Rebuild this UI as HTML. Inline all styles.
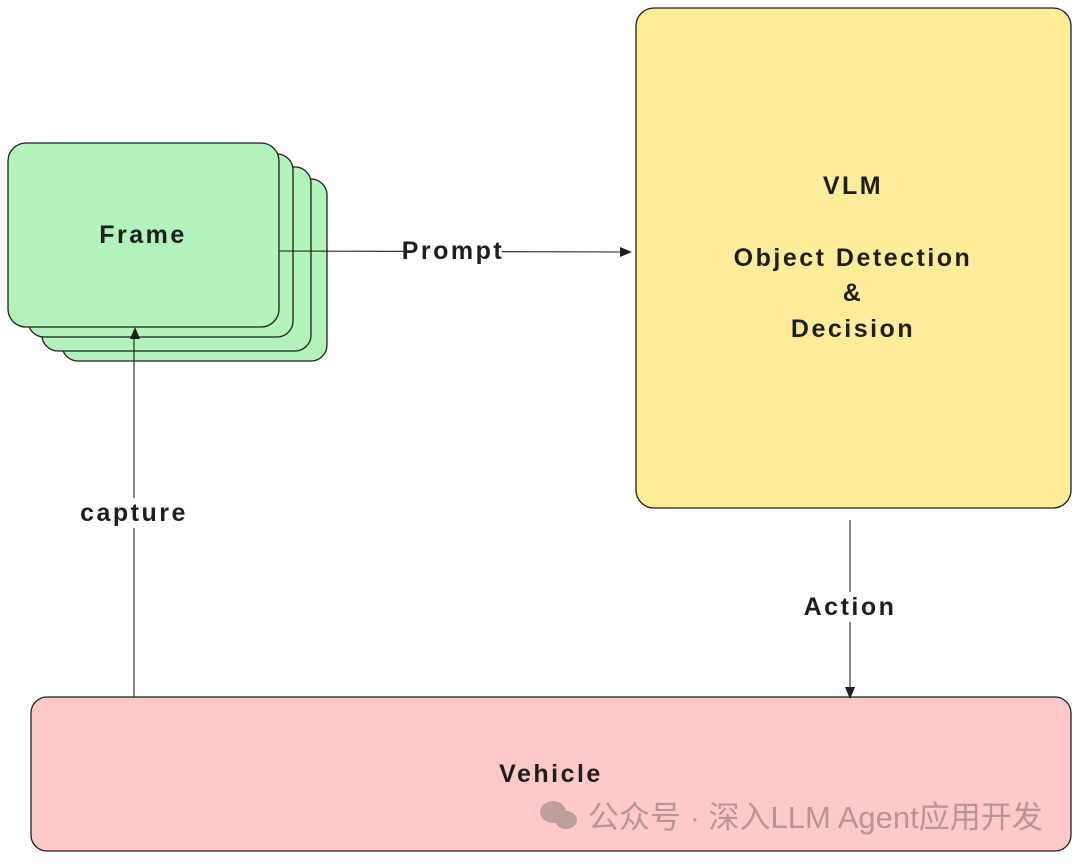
<!DOCTYPE html>
<html><head><meta charset="utf-8"><style>
body{margin:0;background:#fff;width:1080px;height:859px;overflow:hidden}
svg text{font-family:"Comic Sans MS","Liberation Sans",sans-serif;fill:#1e1e1e}
</style></head><body>
<svg width="1080" height="859" viewBox="0 0 1080 859" xmlns="http://www.w3.org/2000/svg">
<g stroke="#1e1e1e" stroke-width="1.3" fill="#b2f2bb">
<rect x="62" y="179" width="265" height="182" rx="16"/>
<rect x="42" y="167" width="269" height="184" rx="16"/>
<rect x="28" y="154" width="265" height="183" rx="16"/>
<rect x="8" y="143" width="271" height="184" rx="18"/>
</g>
<rect x="636" y="8" width="435" height="500" rx="18" fill="#ffec99" stroke="#1e1e1e" stroke-width="1.3"/>
<rect x="31" y="697" width="1040" height="154" rx="16" fill="#ffc9c9" stroke="#1e1e1e" stroke-width="1.3"/>
<g stroke="#1e1e1e" stroke-width="1.1" fill="none">
<line x1="279" y1="251" x2="628" y2="252"/>
<line x1="134" y1="697" x2="134" y2="334"/>
<line x1="850" y1="520" x2="850" y2="693"/>
</g>
<g fill="#1e1e1e">
<polygon points="632,252 620,247 620,257"/>
<polygon points="135,327 130,339 140,339"/>
<polygon points="850,699 845,687 855,687"/>
</g>
<rect x="404" y="238" width="98" height="28" fill="#fff"/>
<rect x="80" y="498" width="108" height="30" fill="#fff"/>
<rect x="804" y="592" width="92" height="30" fill="#fff"/>
<g font-size="25" text-anchor="middle" letter-spacing="2.5" font-weight="bold">
<text x="143" y="243">Frame</text>
<text x="453" y="259">Prompt</text>
<text x="134" y="521">capture</text>
<text x="850" y="615">Action</text>
<text x="853" y="194">VLM</text>
<text x="853" y="266">Object Detection</text>
<text x="853" y="301">&amp;</text>
<text x="853" y="337">Decision</text>
<text x="551" y="782">Vehicle</text>
</g>
<g fill="#b89a9a" opacity="0.9">
<ellipse cx="553" cy="812" rx="13" ry="11"/>
<ellipse cx="566" cy="820" rx="11" ry="9"/>
</g>
<text x="588" y="828" font-size="31" fill="#b49696" style="font-family:'Liberation Sans','Noto Sans CJK SC',sans-serif;fill:#b49696">公众号 · 深入LLM Agent应用开发</text>
</svg>
</body></html>
